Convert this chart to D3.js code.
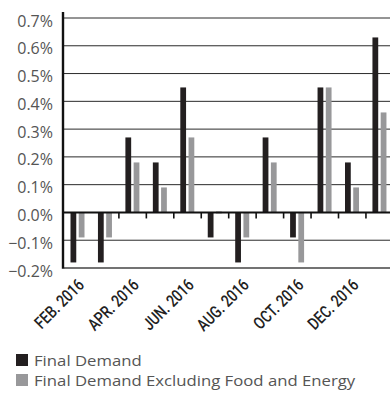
<!DOCTYPE html>
<html>
<head>
<meta charset="utf-8">
<script src="https://cdn.jsdelivr.net/npm/d3@7"></script>
<style>
  html, body { margin: 0; padding: 0; background: #fff; }
  svg { display: block; }
</style>
</head>
<body>
<div id="chart"></div>
<script>
// Monthly percent change, 2016
const months = ["JAN. 2016", "FEB. 2016", "MAR. 2016", "APR. 2016", "MAY 2016", "JUN. 2016",
                "JUL. 2016", "AUG. 2016", "SEP. 2016", "OCT. 2016", "NOV. 2016", "DEC. 2016"];
const finalDemand = [-0.18, -0.18, 0.27, 0.18, 0.45, -0.09, -0.18, 0.27, -0.09, 0.45, 0.18, 0.63];
const excludingFoodEnergy = [-0.09, -0.09, 0.18, 0.09, 0.27, 0.0, -0.09, 0.18, -0.18, 0.45, 0.09, 0.36];
const seriesNames = ["Final Demand", "Final Demand Excluding Food and Energy"];
const seriesColors = ["#231f20", "#98989a"];
const yTicks = [-0.2, -0.1, 0.0, 0.1, 0.2, 0.3, 0.4, 0.5, 0.6, 0.7];
const labelledMonths = ["FEB. 2016", "APR. 2016", "JUN. 2016", "AUG. 2016", "OCT. 2016", "DEC. 2016"];

const W = 390, H = 399;
const plotLeft = 64, plotTop = 18, plotRight = 393.4, plotBottom = 268;

const svg = d3.select("#chart").append("svg").attr("width", W).attr("height", H);

const x = d3.scaleBand().domain(months).range([plotLeft, plotRight]).padding(0);
const xs = d3.scaleBand().domain([0, 1]).range([6.5, 20.5]).paddingInner(0.3);
const y = d3.scaleLinear().domain([-0.2, 0.7]).range([plotBottom, plotTop]);

// horizontal grid lines
svg.append("g").selectAll("line")
  .data(yTicks.filter(t => t !== 0))
  .join("line")
  .attr("x1", plotLeft).attr("x2", W)
  .attr("y1", d => y(d)).attr("y2", d => y(d))
  .attr("stroke", d => d === -0.2 ? "#444" : "#2a2a2a")
  .attr("stroke-width", d => d === -0.2 ? 1.6 : 1);

// y tick labels
svg.append("g").selectAll("text")
  .data(yTicks)
  .join("text")
  .attr("x", 53)
  .attr("y", d => y(d) + 8.5)
  .attr("text-anchor", "end")
  .attr("font-family", "'Open Sans', sans-serif")
  .attr("font-size", 16)
  .attr("fill", "#555")
  .text(d => d3.format(".1f")(d) + "%");

// bars
const rows = months.map((m, i) => ({ month: m, values: [finalDemand[i], excludingFoodEnergy[i]] }));
svg.append("g").selectAll("g")
  .data(rows)
  .join("g")
  .attr("transform", d => `translate(${x(d.month)},0)`)
  .selectAll("rect")
  .data(d => d.values.map((v, k) => ({ v, k })))
  .join("rect")
  .attr("x", d => xs(d.k))
  .attr("width", xs.bandwidth())
  .attr("y", d => d.v === 0 ? y(0) - 1 : Math.min(y(d.v), y(0)))
  .attr("height", d => d.v === 0 ? 2 : Math.abs(y(d.v) - y(0)))
  .attr("fill", d => seriesColors[d.k]);

// zero line
svg.append("line")
  .attr("x1", plotLeft).attr("x2", W)
  .attr("y1", y(0)).attr("y2", y(0))
  .attr("stroke", "#111").attr("stroke-width", 2);

// month boundary ticks under the zero line
svg.append("g").selectAll("line")
  .data(months.slice(2))
  .join("line")
  .attr("x1", d => x(d)).attr("x2", d => x(d))
  .attr("y1", y(0)).attr("y2", y(0) + 6)
  .attr("stroke", "#111").attr("stroke-width", 1.6);

// left axis
svg.append("line")
  .attr("x1", plotLeft - 1).attr("x2", plotLeft - 1)
  .attr("y1", 12).attr("y2", plotBottom + 0.8)
  .attr("stroke", "#111").attr("stroke-width", 2.4);

// rotated month labels (condensed)
svg.append("g").selectAll("text")
  .data(labelledMonths)
  .join("text")
  .attr("transform", d => `translate(${x(d) + x.bandwidth() / 2 - 20},286) rotate(-45) scale(0.8,1)`)
  .attr("text-anchor", "end")
  .attr("font-family", "Roboto, sans-serif")
  .attr("font-weight", 500)
  .attr("font-size", 17)
  .attr("fill", "#222")
  .text(d => d);

// legend
const legend = svg.append("g").selectAll("g")
  .data(seriesNames)
  .join("g")
  .attr("transform", (d, i) => `translate(16,${354 + i * 20})`);
legend.append("rect").attr("width", 12).attr("height", 12)
  .attr("fill", (d, i) => seriesColors[i]);
legend.append("text")
  .attr("transform", "translate(18,12) scale(1.1,1)")
  .attr("font-family", "'Open Sans', sans-serif")
  .attr("font-size", 15.2)
  .attr("fill", "#555")
  .text(d => d);
</script>
</body>
</html>
